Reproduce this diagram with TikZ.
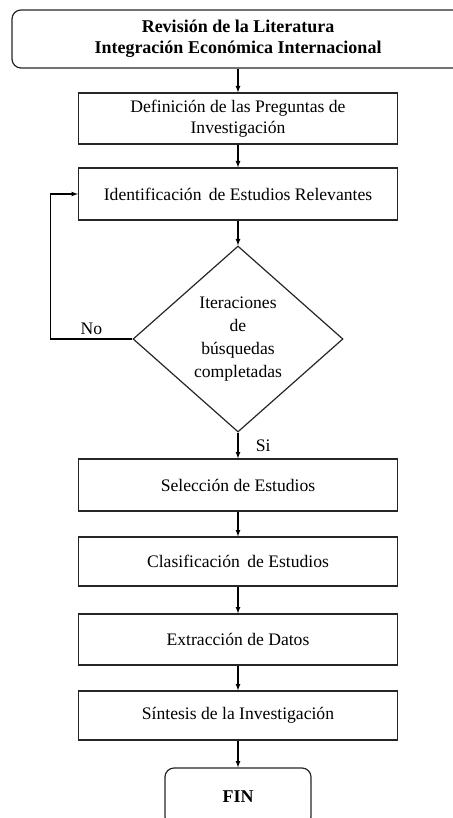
\documentclass[tikz,border=0pt]{standalone}
\usepackage{fontspec}
\setmainfont{Liberation Serif}
\usetikzlibrary{arrows,shapes.geometric,positioning}

\begin{document}
\begin{tikzpicture}[x=1pt,y=-1pt,node distance=77pt,on grid,auto,
   line width=1.2pt,>=latex,
   font=\fontsize{17.6}{21.5}\selectfont,
   proceso/.style={draw=black!85,rectangle,minimum width=319pt,minimum height=51pt,align=center},
   terminal/.style={draw=black!85,rectangle,rounded corners=9pt,align=center,font=\fontsize{18}{21}\selectfont\bfseries},
   decision/.style={draw=black!85,diamond,minimum width=210pt,minimum height=186pt,inner sep=0pt,align=center,font=\fontsize{17.6}{23.3}\selectfont}]
   \useasboundingbox (0,0) rectangle (452,818);
   \node [terminal,minimum width=452pt,minimum height=58pt] (Rev) at (238,39) {Revisión de la Literatura\\Integración Económica Internacional};
   \node [proceso] (Def) [below=79.5pt of Rev] {Definición de las Preguntas de\\Investigación};
   \node [proceso,minimum height=52pt] (Ide) [below=75.5pt of Def] {Identificación\, de Estudios Relevantes};
   \node [decision] (Ite) [below=145pt of Ide] {Iteraciones\\de\\búsquedas\\completadas};
   \node [proceso,minimum height=52pt] (Sel) [below=146pt of Ite] {Selección de Estudios};
   \node [proceso,minimum height=49pt] (Cla) [below=76.5pt of Sel] {Clasificación\, de Estudios};
   \node [proceso] (Ext) [below=78pt of Cla] {Extracción de Datos};
   \node [proceso,minimum height=49pt] (Sin) [below=76pt of Ext] {Síntesis de la Investigación};
   \node [terminal,minimum width=146pt,minimum height=58pt] (Fin) [below=81.5pt of Sin] {FIN};
   \draw [->] (Rev) -- (Def);
   \draw [->] (Def) -- (Ide);
   \draw [->] (Ide) -- (Ite);
   \draw [->] (Ite) -- node [right=14pt] {Si} (Sel);
   \draw [->] (Ite.west) -- node [above,pos=0.5] {No} ++(-82,0) |- (Ide.west);
   \draw [->] (Sel) -- (Cla);
   \draw [->] (Cla) -- (Ext);
   \draw [->] (Ext) -- (Sin);
   \draw [->] (Sin) -- (Fin);
\end{tikzpicture}
\end{document}
